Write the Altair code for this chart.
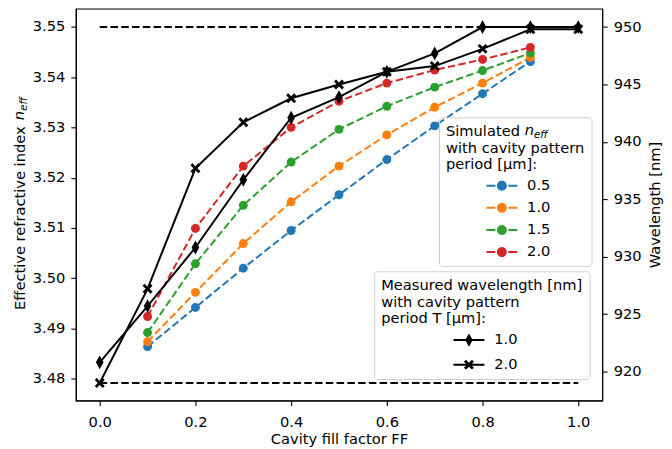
import math
import altair as alt
import pandas as pd

# ---------------- data ----------------
ff_sim = [0.1, 0.2, 0.3, 0.4, 0.5, 0.6, 0.7, 0.8, 0.9]
neff_p05 = [3.4864, 3.4942, 3.5020, 3.5095, 3.5166, 3.5236, 3.5303, 3.5367, 3.5431]
neff_p10 = [3.4874, 3.4972, 3.5069, 3.5152, 3.5223, 3.5285, 3.5340, 3.5388, 3.5439]
neff_p15 = [3.4892, 3.5029, 3.5145, 3.5231, 3.5296, 3.5342, 3.5380, 3.5413, 3.5448]
neff_p20 = [3.4924, 3.5099, 3.5223, 3.5300, 3.5352, 3.5388, 3.5414, 3.5435, 3.5459]
periods = ["0.5", "1.0", "1.5", "2.0"]
period_colors = ["#1f77b4", "#ff7f0e", "#2ca02c", "#d62728"]

ff_meas = [0.0, 0.1, 0.2, 0.3, 0.4, 0.5, 0.6, 0.7, 0.8, 0.9, 1.0]
wl_T10 = [920.8, 925.7, 930.8, 936.7, 942.1, 943.9, 946.1, 947.7, 950.0, 950.0, 950.0]
wl_T20 = [919.0, 927.2, 937.7, 941.7, 943.8, 945.0, 946.1, 946.6, 948.1, 949.8, 949.8]
T_labels = ["1.0", "2.0"]

ref_wl = [950.0, 919.0]
ref_ff_start = [0.0, 0.0]
ref_ff_end = [1.0, 1.0]

x_ticks = [0.0, 0.2, 0.4, 0.6, 0.8, 1.0]
neff_ticks = [3.48, 3.49, 3.50, 3.51, 3.52, 3.53, 3.54, 3.55]
wl_ticks = [920, 925, 930, 935, 940, 945, 950]

# ---------------- tables ----------------
sim_rows = []
for p, vals in zip(periods, [neff_p05, neff_p10, neff_p15, neff_p20]):
    for f, v in zip(ff_sim, vals):
        sim_rows.append({"FF": f, "neff": v, "period": p})
sim = pd.DataFrame(sim_rows)

meas_rows = []
for t, vals in zip(T_labels, [wl_T10, wl_T20]):
    for f, v in zip(ff_meas, vals):
        meas_rows.append({"FF": f, "wl": v, "T": t})
meas = pd.DataFrame(meas_rows)

ref = pd.DataFrame({"FF0": ref_ff_start, "FF1": ref_ff_end, "wl": ref_wl})

W, H = 528, 393
FONT = "DejaVu Sans"
FS = 14.7      # main font size
FS_SUB = 10.3  # subscript size

# marker paths (unit box, scaled by sqrt(size)/2)
DIAMOND = "M0,-1.35L0.75,0L0,1.35L-0.75,0Z"
XMARK = "M-1,-0.6L-0.6,-1L0,-0.4L0.6,-1L1,-0.6L0.4,0L1,0.6L0.6,1L0,0.4L-0.6,1L-1,0.6L-0.4,0Z"
_circ = "M" + "L".join(
    f"{math.cos(2 * math.pi * k / 24):.3f},{math.sin(2 * math.pi * k / 24):.3f}" for k in range(24)
) + "Z"
LEG_CIRCLE = "M-3.1,-0.2H-1.3V0.2H-3.1Z M1.3,-0.2H3.1V0.2H1.3Z " + _circ
LEG_DIAMOND = "M-3.1,-0.2H3.1V0.2H-3.1Z M0,-1.35L0.75,0L0,1.35L-0.75,0Z"
LEG_X = "M-3.1,-0.2H3.1V0.2H-3.1Z " + XMARK

x_enc = alt.X("FF:Q",
              scale=alt.Scale(domain=[-0.05, 1.05], nice=False, zero=False),
              axis=alt.Axis(values=x_ticks, format=".1f", title="Cavity fill factor FF",
                            titleY=43, titleBaseline="alphabetic", labelPadding=9.5))

y_left = alt.Y("neff:Q",
               scale=alt.Scale(domain=[3.4757, 3.5536], nice=False, zero=False),
               axis=alt.Axis(values=neff_ticks, format=".2f",
                             title="Effective refractive index",
                             titleAngle=270, titleAlign="left", titleBaseline="alphabetic",
                             titleX=-51.7, titleY=301.7))

y_right = alt.Y("wl:Q",
                scale=alt.Scale(domain=[917.48, 951.6], nice=False, zero=False),
                axis=alt.Axis(orient="right", values=wl_ticks, format="d",
                              title="Wavelength [nm]", titleAngle=270,
                              titleBaseline="alphabetic", titleX=57.7, titleY=H / 2,
                              titleAlign="center"))

color_scale = alt.Scale(domain=periods, range=period_colors)

# one dashed line per simulated period (colour taken from the palette list)
sim_lines = [
    alt.Chart(sim).transform_filter(alt.datum.period == p)
    .mark_line(strokeWidth=2, strokeDash=[7.5, 3.3], color=c)
    .encode(x=x_enc, y=y_left)
    for p, c in zip(periods, period_colors)
]

sim_points = alt.Chart(sim).mark_point(filled=True, size=80, opacity=1).encode(
    x=x_enc, y=y_left,
    color=alt.Color("period:N", scale=color_scale,
                    legend=alt.Legend(
                        orient="none", legendX=364.3, legendY=109,
                        title=["Simulated", "with cavity pattern", "period [μm]:"],
                        titleFont=FONT, titleFontSize=FS, titleFontWeight="normal",
                        titleLineHeight=16.5, titleColor="black", titlePadding=6.5,
                        titleLimit=400,
                        labelFont=FONT, labelFontSize=FS, labelColor="black",
                        symbolType=LEG_CIRCLE, symbolSize=100, symbolStrokeWidth=0,
                        symbolOpacity=1,
                        symbolOffset=48.7, labelOffset=18, rowPadding=6.2,
                        padding=7, strokeColor="#d0d0d0", fillColor="rgba(255,255,255,0)",
                        cornerRadius=3)),
)

n_text = alt.Chart(pd.DataFrame({"t": ["n"]})).mark_text(
    text="n", font=FONT, fontSize=FS, fontStyle="italic", align="left",
    baseline="alphabetic", color="black").encode(x=alt.value(450.3), y=alt.value(126.5))
eff_text = alt.Chart(pd.DataFrame({"t": ["eff"]})).mark_text(
    text="eff", font=FONT, fontSize=FS_SUB, fontStyle="italic", align="left",
    baseline="alphabetic", color="black").encode(x=alt.value(459.6), y=alt.value(129.5))

ax_n = alt.Chart(pd.DataFrame({"t": ["n"]})).mark_text(
    text="n", font=FONT, fontSize=FS, fontStyle="italic", align="left",
    baseline="alphabetic", angle=270, color="black").encode(x=alt.value(-51.7), y=alt.value(111.8))
ax_eff = alt.Chart(pd.DataFrame({"t": ["eff"]})).mark_text(
    text="eff", font=FONT, fontSize=FS_SUB, fontStyle="italic", align="left",
    baseline="alphabetic", angle=270, color="black").encode(x=alt.value(-48.7), y=alt.value(102.5))

left = alt.layer(*sim_lines, sim_points, n_text, eff_text, ax_n, ax_eff)

ref_rules = alt.Chart(ref).mark_rule(color="black", strokeWidth=2, strokeDash=[7.5, 3.3]).encode(
    x=alt.X("FF0:Q", scale=alt.Scale(domain=[-0.05, 1.05], nice=False, zero=False)),
    x2="FF1:Q",
    y=y_right,
)

meas_lines = alt.Chart(meas).mark_line(color="black", strokeWidth=2).encode(
    x=x_enc, y=y_right, detail="T:N")

meas_d = alt.Chart(meas).transform_filter("datum.T == '1.0'").mark_point(
    shape=DIAMOND, filled=True, size=105, color="black", opacity=1, strokeWidth=0).encode(
    x=x_enc, y=y_right)

meas_x = alt.Chart(meas).transform_filter("datum.T == '2.0'").mark_point(
    shape=XMARK, filled=True, size=100, color="black", opacity=1, strokeWidth=0).encode(
    x=x_enc, y=y_right)

meas_legend = alt.Chart(meas).mark_point(filled=True, size=100, opacity=0, color="black").encode(
    x=x_enc, y=y_right,
    shape=alt.Shape("T:N", scale=alt.Scale(domain=T_labels, range=[LEG_DIAMOND, LEG_X]),
                    legend=alt.Legend(
                        orient="none", legendX=299.3, legendY=263.4,
                        title=["Measured wavelength [nm]", "with cavity pattern", "period T [μm]:"],
                        titleFont=FONT, titleFontSize=FS, titleFontWeight="normal",
                        titleLineHeight=16.5, titleColor="black", titlePadding=7,
                        titleLimit=400,
                        labelFont=FONT, labelFontSize=FS, labelColor="black",
                        symbolSize=100, symbolStrokeWidth=0, symbolOpacity=1,
                        symbolFillColor="black", symbolStrokeColor="black",
                        symbolOffset=80.7, labelOffset=18, rowPadding=8.6,
                        padding=7, strokeColor="#d0d0d0", fillColor="rgba(255,255,255,0.8)",
                        cornerRadius=3)),
)

right = alt.layer(ref_rules, meas_lines, meas_d, meas_x, meas_legend)

chart = alt.layer(left, right).resolve_scale(y="independent").properties(
    width=W, height=H,
    autosize=alt.AutoSizeParams(type="none"),
    padding={"left": 68, "top": 0, "right": 62, "bottom": 48},
).configure_view(stroke="black", strokeWidth=1.1).configure_axis(
    grid=False, domainColor="black", domainWidth=1.1, tickColor="black", tickWidth=1.1,
    tickSize=5, labelColor="black", titleColor="black", labelFont=FONT, titleFont=FONT,
    labelFontSize=FS, titleFontSize=FS, titleFontWeight="normal", labelPadding=6,
)

chart.save("out.html", embed_options={"renderer": "svg", "actions": False})
